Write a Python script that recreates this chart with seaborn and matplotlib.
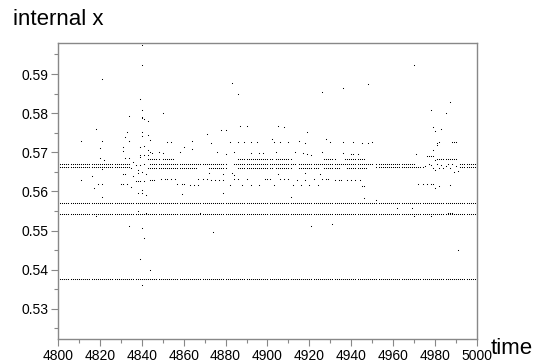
import numpy as np
import pandas as pd
import seaborn as sns
import matplotlib.pyplot as plt

# levels that hold for every time step of the run
full_levels = [0.5571, 0.5543, 0.5377]
# the upper pair of levels, only where the orbit is quiet
pair_levels = [0.5671, 0.5663]
pair_start = [4800, 4952, 4992]
pair_end = [4834, 4970, 5000]

# dense runs inside the noisy band (start, end, level)
run_start = [4843, 4850, 4886, 4904, 4927, 4937, 4981,
             4844, 4884, 4915,
             4843, 4872, 4886, 4904, 4915, 4927, 4938]
run_end = [4848, 4855, 4902, 4911, 4932, 4946, 4990,
           4880, 4913, 4950,
           4866, 4880, 4902, 4911, 4924, 4934, 4947]
run_level = [0.5683] * 7 + [0.5671] * 3 + [0.5659] * 7

# single scattered points
pts_t = [4811, 4811, 4818, 4821, 4821, 4820, 4820, 4822, 4816, 4817, 4819, 4821, 4821, 4818, 4821,
         4832, 4834, 4834, 4833, 4831, 4832, 4834, 4830, 4831, 4833, 4835, 4837, 4838, 4839, 4841,
         4838, 4840, 4840, 4842, 4838, 4842, 4834, 4840, 4841, 4839, 4844, 4840, 4840, 4840, 4839,
         4840, 4840, 4840, 4841, 4843, 4840, 4840, 4843, 4844, 4839, 4841, 4843, 4839, 4841, 4844,
         4845, 4850, 4831, 4831, 4834, 4839, 4832, 4838, 4841, 4839, 4843, 4836, 4837, 4838, 4840,
         4842, 4835, 4836,
         4852, 4854, 4860, 4864, 4864, 4871, 4873, 4878, 4880, 4882, 4886, 4887, 4889, 4890, 4892,
         4895, 4902, 4903, 4905, 4906, 4908, 4910, 4915, 4918, 4919, 4928, 4930, 4936, 4941, 4945,
         4948, 4950, 4883, 4886, 4926, 4936, 4948, 4970, 4987, 4978, 4985, 4979, 4980, 4983, 4981,
         4982, 4981, 4988, 4989, 4990, 4979, 4971,
         4848, 4850, 4858, 4876, 4880, 4884, 4892, 4896, 4898, 4904, 4913, 4917, 4919, 4921, 4926,
         4936, 4940, 4941, 4943, 4976, 4977, 4978, 4979,
         4844, 4845, 4846, 4849, 4851, 4852, 4854, 4856, 4857, 4859, 4860, 4859, 4863, 4865, 4867,
         4867, 4869, 4871, 4873, 4875, 4877, 4879, 4879, 4882, 4884, 4886, 4888, 4890, 4892, 4896,
         4899, 4900, 4901, 4903, 4906, 4908, 4910, 4912, 4914, 4916, 4918, 4920, 4922, 4924, 4926,
         4928, 4929, 4932, 4934, 4935, 4938, 4940, 4942, 4944, 4945, 4946, 4911, 4946, 4952, 4962,
         4969, 4970, 4978, 4986, 4987, 4988, 4991, 4868, 4874, 4921, 4931, 4972, 4974, 4976, 4978,
         4979, 4980, 4982, 4987,
         4971, 4972, 4973, 4974, 4975, 4977, 4978, 4979, 4980, 4981, 4982, 4983, 4984, 4985, 4986,
         4987, 4988, 4989, 4990, 4991, 4980,
         4872, 4879, 4883, 4884, 4905, 4918, 4925]
pts_x = [0.5730, 0.5630, 0.5760, 0.5887, 0.5730, 0.5711, 0.5686, 0.5680, 0.5639, 0.5608, 0.5620, 0.5620, 0.5585, 0.5537, 0.5658,
         0.5739, 0.5730, 0.5794, 0.5751, 0.5713, 0.5686, 0.5686, 0.5620, 0.5620, 0.5620, 0.5612, 0.5626, 0.5626, 0.5626, 0.5626,
         0.5597, 0.5597, 0.5603, 0.5590, 0.5550, 0.5546, 0.5513, 0.5507, 0.5482, 0.5428, 0.5399, 0.5360, 0.5975, 0.5922, 0.5835,
         0.5807, 0.5791, 0.5788, 0.5784, 0.5781, 0.5751, 0.5741, 0.5744, 0.5731, 0.5714, 0.5717, 0.5707, 0.5692, 0.5694, 0.5700,
         0.5699, 0.5801, 0.5703, 0.5645, 0.5728, 0.5689, 0.5645, 0.5648, 0.5671, 0.5668, 0.5694, 0.5675, 0.5668, 0.5655, 0.5650,
         0.5645, 0.5660, 0.5640,
         0.5726, 0.5726, 0.5713, 0.5730, 0.5709, 0.5748, 0.5724, 0.5756, 0.5756, 0.5726, 0.5726, 0.5767, 0.5726, 0.5767, 0.5726,
         0.5726, 0.5734, 0.5726, 0.5767, 0.5726, 0.5764, 0.5726, 0.5730, 0.5724, 0.5752, 0.5733, 0.5726, 0.5726, 0.5726, 0.5724,
         0.5724, 0.5726, 0.5876, 0.5848, 0.5853, 0.5865, 0.5875, 0.5924, 0.5829, 0.5807, 0.5801, 0.5764, 0.5754, 0.5760, 0.5724,
         0.5726, 0.5718, 0.5726, 0.5726, 0.5726, 0.5705, 0.5696,
         0.5700, 0.5699, 0.5700, 0.5702, 0.5696, 0.5700, 0.5699, 0.5699, 0.5699, 0.5702, 0.5702, 0.5699, 0.5696, 0.5694, 0.5700,
         0.5699, 0.5695, 0.5695, 0.5695, 0.5690, 0.5690, 0.5690, 0.5690,
         0.5628, 0.5628, 0.5628, 0.5631, 0.5631, 0.5631, 0.5631, 0.5631, 0.5618, 0.5618, 0.5618, 0.5594, 0.5617, 0.5617, 0.5617,
         0.5631, 0.5631, 0.5631, 0.5629, 0.5629, 0.5629, 0.5597, 0.5629, 0.5616, 0.5631, 0.5631, 0.5616, 0.5631, 0.5616, 0.5616,
         0.5631, 0.5631, 0.5631, 0.5616, 0.5631, 0.5631, 0.5631, 0.5616, 0.5629, 0.5616, 0.5629, 0.5616, 0.5631, 0.5616, 0.5631,
         0.5631, 0.5631, 0.5629, 0.5628, 0.5628, 0.5628, 0.5628, 0.5628, 0.5628, 0.5614, 0.5614, 0.5585, 0.5584, 0.5578, 0.5557,
         0.5558, 0.5537, 0.5537, 0.5546, 0.5546, 0.5546, 0.5450, 0.5546, 0.5497, 0.5513, 0.5516, 0.5620, 0.5620, 0.5620, 0.5620,
         0.5620, 0.5609, 0.5614, 0.5616,
         0.5663, 0.5663, 0.5663, 0.5663, 0.5665, 0.5671, 0.5668, 0.5660, 0.5656, 0.5671, 0.5660, 0.5668, 0.5659, 0.5665, 0.5671,
         0.5659, 0.5671, 0.5649, 0.5665, 0.5653, 0.5680,
         0.5647, 0.5645, 0.5648, 0.5643, 0.5645, 0.5647, 0.5644]

# build one long table of (time, internal x)
frames = []
steps = np.arange(4800, 5001)
for lev in full_levels:
    frames.append(pd.DataFrame({"time": steps, "x": lev}))
for a, b in zip(pair_start, pair_end):
    for lev in pair_levels:
        tt = np.arange(a, b + 1)
        frames.append(pd.DataFrame({"time": tt, "x": lev}))
for a, b, lev in zip(run_start, run_end, run_level):
    tt = np.arange(a, b + 1)
    frames.append(pd.DataFrame({"time": tt, "x": lev}))
frames.append(pd.DataFrame({"time": pts_t, "x": pts_x}))
df = pd.concat(frames, ignore_index=True)

sns.set_style("ticks")
plt.rcParams['font.family'] = ['Liberation Sans', 'DejaVu Sans']

fig = plt.figure(figsize=(5.4, 3.62), dpi=100)
ax = fig.add_axes([0.1074, 0.0635, 0.7759, 0.8185])
sns.scatterplot(data=df, x="time", y="x", ax=ax, marker="s", s=0.55,
                color="black", linewidth=0, legend=False)
# tiny markers: no pixel snapping, so they stay one soft pixel each
ax.collections[0].set_snap(False)

ax.set_xlim(4800, 5000)
ax.set_ylim(0.5223, 0.598)
ax.set_xticks(np.arange(4800, 5001, 20))
ax.set_xticks(np.arange(4810, 5000, 20), minor=True)
ax.set_yticks([0.53, 0.54, 0.55, 0.56, 0.57, 0.58, 0.59])
ax.set_yticks(np.arange(0.525, 0.598, 0.01), minor=True)
ax.set_yticklabels(["0.53", "0.54", "0.55", "0.56", "0.57", "0.58", "0.59"])
ax.tick_params(which="major", length=5, width=0.8, color="#888888",
               labelsize=10, labelcolor="black", pad=2)
ax.tick_params(which="minor", length=3, width=0.8, color="#888888")
for sp in ax.spines.values():
    sp.set_visible(True)
    sp.set_color("#888888")
    sp.set_linewidth(1.0)
ax.set_xlabel("")
ax.set_ylabel("")

fig.text(0.024, 0.93, "internal x", fontsize=16, ha="left", va="baseline", color="black")
fig.text(0.908, 0.022, "time", fontsize=16, ha="left", va="baseline", color="black")

fig.savefig("out.png", dpi=100)
